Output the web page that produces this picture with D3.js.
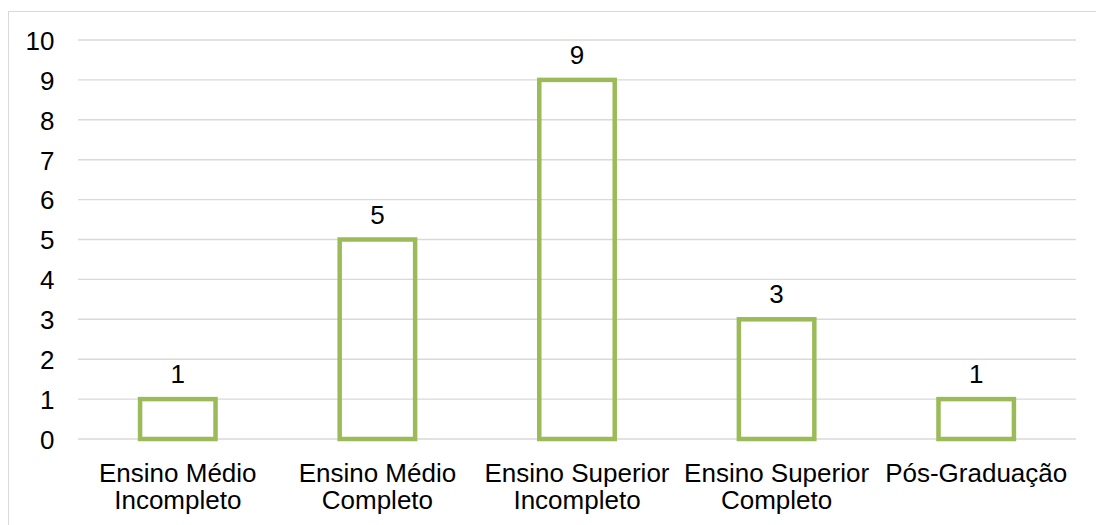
<!DOCTYPE html>
<html><head><meta charset="utf-8">
<script src="https://cdn.jsdelivr.net/npm/d3@7"></script>
<style>body{margin:0;background:#fff}svg{display:block}text{font-family:"Liberation Sans",Arial,sans-serif;fill:#000}</style>
</head><body><svg id="c" width="1096" height="525"></svg>
<script>
const categories = [["Ensino Médio","Incompleto"],["Ensino Médio","Completo"],["Ensino Superior","Incompleto"],["Ensino Superior","Completo"],["Pós-Graduação"]];
const values = [1,5,9,3,1];
const yTicks = [0,1,2,3,4,5,6,7,8,9,10];

const svg = d3.select("#c");
const fs = 26;
svg.append("rect").attr("x",8.5).attr("y",11.5).attr("width",1200).attr("height",600)
  .attr("fill","none").attr("stroke","#d9d9d9").attr("stroke-width",1);

const x = d3.scaleBand().domain(d3.range(categories.length)).range([78,1076]).paddingInner(0.622).paddingOuter(0.311);
const y = d3.scaleLinear().domain([0,10]).range([439,40]);

svg.append("g").selectAll("line").data(yTicks).join("line")
  .attr("x1",78).attr("x2",1076).attr("y1",d=>y(d)).attr("y2",d=>y(d))
  .attr("stroke","#d9d9d9").attr("stroke-width",1.4);

const yAxis = d3.axisLeft(y).tickValues(yTicks).tickSize(0).tickPadding(0).tickFormat(d3.format("d"));
const ga = svg.append("g").attr("transform","translate(54.5,0)").call(yAxis);
ga.select(".domain").remove();
ga.selectAll("text").attr("font-size",fs).attr("font-family","Liberation Sans, Arial, sans-serif").attr("fill","#000").attr("dy","0.36em");

svg.append("g").selectAll("rect").data(values).join("rect")
  .attr("x",(d,i)=>x(i)).attr("width",x.bandwidth())
  .attr("y",d=>y(d)).attr("height",d=>y(0)-y(d))
  .attr("fill","none").attr("stroke","#9bbb59").attr("stroke-width",4.5);

svg.append("g").selectAll("text").data(values).join("text")
  .attr("x",(d,i)=>x(i)+x.bandwidth()/2).attr("y",d=>y(d)-16)
  .attr("text-anchor","middle").attr("font-size",fs).text(d=>d);

const cg = svg.append("g").selectAll("text").data(categories).join("text")
  .attr("x",(d,i)=>x(i)+x.bandwidth()/2).attr("y",481.5)
  .attr("text-anchor","middle").attr("font-size",fs);
cg.selectAll("tspan").data(d=>d).join("tspan")
  .attr("x",function(){return this.parentNode.getAttribute("x");})
  .attr("dy",(d,i)=>i===0?0:27.5).text(d=>d);
</script></body></html>
